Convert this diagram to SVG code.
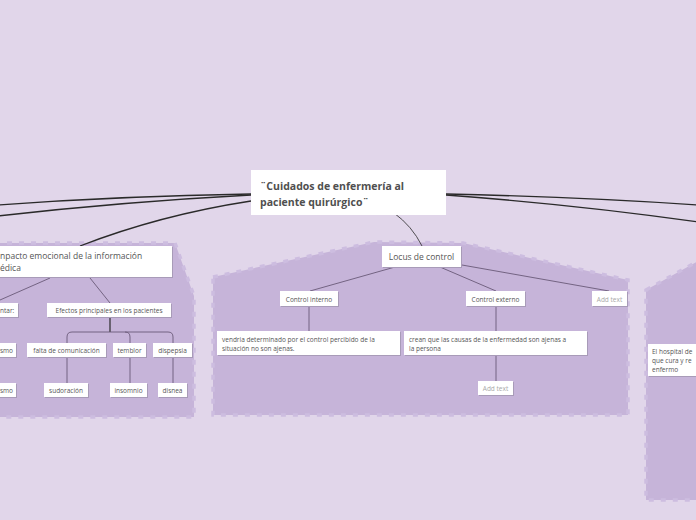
<svg xmlns="http://www.w3.org/2000/svg" width="696" height="520" viewBox="0 0 696 520">
<style>
.region{fill:#c6b4d9;stroke:#cdbde0;stroke-width:3.5;stroke-dasharray:5 7}
.box{fill:#ffffff}
.sh{fill:#a89bb8}
.t{font-family:"Open Sans","Liberation Sans",sans-serif;fill:#555555}
.title{font-size:10.5px;font-weight:bold;fill:#4f4f4f}
.m{font-size:8.5px}
.s{font-size:6.5px}
.g{fill:#a8a8a8}
.main{fill:none;stroke:#2a2a2a;stroke-width:1.3}
.thin{fill:none;stroke:#2a2a2a;stroke-width:0.8}
.sub{fill:none;stroke:#6a5a78;stroke-width:0.9}
</style>
<rect width="696" height="520" fill="#e1d6ea"/>
<g id="regions">
<polygon class="region" points="-5,243 175,243 194,296 194,417 -5,417"/>
<polygon class="region" points="213,277 374,242 463,243 628,280 628,415 213,415"/>
<polygon class="region" points="646,290 700,260 700,500 646,500"/>
</g>
<g id="connectors">
<path class="main" d="M251,194 Q120,196 -2,205"/>
<path class="main" d="M251,195 Q120,202 -2,216"/>
<path class="main" d="M251,201 Q160,215 80,246"/>
<path class="main" d="M446,194 Q580,197 698,205"/>
<path class="main" d="M446,195 Q580,205 698,222"/>
<path class="thin" d="M394,213 Q412,226 422,246"/>
<path class="sub" d="M50,278 L0,300"/>
<path class="sub" d="M90,278 L110,303"/>
<path class="main" d="M110,318 L110,332" style="stroke-width:1.2"/>
<path class="sub" d="M67,343 L67,337 Q67,332 72,332 L168,332 Q173,332 173,337 L173,343"/>
<path class="sub" d="M125,332 Q130,332 130,337 L130,343"/>
<path class="sub" d="M67,358 L67,383"/>
<path class="sub" d="M130,358 L130,383"/>
<path class="sub" d="M173,358 L173,383"/>
<path class="sub" d="M395,267 L310,291"/>
<path class="sub" d="M440,267 L496,291"/>
<path class="sub" d="M462,265 L609,291"/>
<path class="sub" d="M309,306 L309,332"/>
<path class="sub" d="M496,306 L496,382"/>
</g>
<g id="central">
<rect class="box" x="251" y="170" width="195" height="45"/>
<text class="t title" x="260" y="190">¨Cuidados de enfermería al</text>
<text class="t title" x="260" y="206">paciente quirúrgico¨</text>
</g>
<g id="impacto">
<rect class="sh" x="-5" y="247" width="178" height="31"/>
<rect class="box" x="-5" y="246" width="177" height="31"/>
<text class="t m" x="0" y="259">npacto emocional de la información</text>
<text class="t m" x="0" y="271">édica</text>
</g>
<g id="ntar">
<rect class="sh" x="-5" y="304" width="24" height="14"/>
<rect class="box" x="-5" y="303" width="23" height="14"/>
<text class="t s" x="0" y="312.5">ntar:</text>
</g>
<g id="efectos">
<rect class="sh" x="48" y="304" width="124" height="14"/>
<rect class="box" x="47" y="303" width="124" height="14"/>
<text class="t s" x="109" y="312.5" text-anchor="middle">Efectos principales en los pacientes</text>
</g>
<g id="smo1">
<rect class="sh" x="-5" y="344" width="22" height="14"/>
<rect class="box" x="-5" y="343" width="21" height="14"/>
<text class="t s" x="0" y="352.5">smo</text>
</g>
<g id="falta">
<rect class="sh" x="28" y="344" width="79" height="14"/>
<rect class="box" x="27" y="343" width="79" height="14"/>
<text class="t s" x="66.5" y="352.5" text-anchor="middle">falta de comunicación</text>
</g>
<g id="temblor">
<rect class="sh" x="114" y="344" width="33" height="14"/>
<rect class="box" x="113" y="343" width="33" height="14"/>
<text class="t s" x="129.5" y="352.5" text-anchor="middle">temblor</text>
</g>
<g id="dispepsia">
<rect class="sh" x="154" y="344" width="39" height="14"/>
<rect class="box" x="153" y="343" width="39" height="14"/>
<text class="t s" x="172.5" y="352.5" text-anchor="middle">dispepsia</text>
</g>
<g id="smo2">
<rect class="sh" x="-5" y="384" width="22" height="14"/>
<rect class="box" x="-5" y="383" width="21" height="14"/>
<text class="t s" x="0" y="392.5">smo</text>
</g>
<g id="sudoracion">
<rect class="sh" x="45" y="384" width="44" height="14"/>
<rect class="box" x="44" y="383" width="44" height="14"/>
<text class="t s" x="66" y="392.5" text-anchor="middle">sudoración</text>
</g>
<g id="insomnio">
<rect class="sh" x="111" y="384" width="37" height="14"/>
<rect class="box" x="110" y="383" width="37" height="14"/>
<text class="t s" x="128.5" y="392.5" text-anchor="middle">insomnio</text>
</g>
<g id="disnea">
<rect class="sh" x="159" y="384" width="29" height="14"/>
<rect class="box" x="158" y="383" width="29" height="14"/>
<text class="t s" x="172.5" y="392.5" text-anchor="middle">disnea</text>
</g>
<g id="locus">
<rect class="sh" x="383" y="247" width="79" height="21"/>
<rect class="box" x="382" y="246" width="79" height="21"/>
<text class="t m" x="421.5" y="260" text-anchor="middle">Locus de control</text>
</g>
<g id="cinterno">
<rect class="sh" x="281" y="292" width="58" height="15"/>
<rect class="box" x="280" y="291" width="58" height="15"/>
<text class="t s" x="309" y="301.5" text-anchor="middle">Control interno</text>
</g>
<g id="cexterno">
<rect class="sh" x="467" y="292" width="59" height="15"/>
<rect class="box" x="466" y="291" width="59" height="15"/>
<text class="t s" x="495.5" y="301.5" text-anchor="middle">Control externo</text>
</g>
<g id="addtext1">
<rect class="sh" x="593" y="292" width="35" height="15"/>
<rect class="box" x="592" y="291" width="35" height="15"/>
<text class="t s g" x="609.5" y="301.5" text-anchor="middle">Add text</text>
</g>
<g id="vendria">
<rect class="sh" x="218" y="332" width="183" height="24"/>
<rect class="box" x="217" y="331" width="183" height="24"/>
<text class="t s" x="222" y="341.5">vendria determinado por el control percibido de la</text>
<text class="t s" x="222" y="350.5">situación no son ajenas.</text>
</g>
<g id="crean">
<rect class="sh" x="405" y="332" width="183" height="24"/>
<rect class="box" x="404" y="331" width="183" height="24"/>
<text class="t s" x="409" y="341.5">crean que las causas de la enfermedad son ajenas a</text>
<text class="t s" x="409" y="350.5">la persona</text>
</g>
<g id="addtext2">
<rect class="sh" x="479" y="382" width="35" height="14"/>
<rect class="box" x="478" y="381" width="35" height="14"/>
<text class="t s g" x="495.5" y="390.5" text-anchor="middle">Add text</text>
</g>
<g id="hospital">
<rect class="sh" x="649" y="345" width="52" height="32"/>
<rect class="box" x="648" y="344" width="52" height="32"/>
<text class="t s" x="652" y="354">El hospital de</text>
<text class="t s" x="652" y="363">que cura y re</text>
<text class="t s" x="652" y="372">enfermo</text>
</g>
</svg>
